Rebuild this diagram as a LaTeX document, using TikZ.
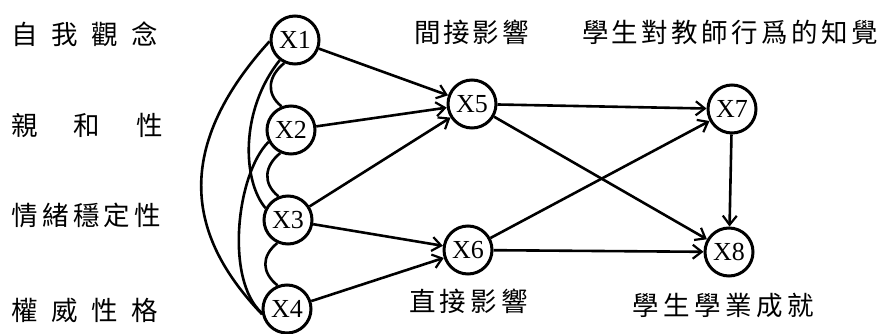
\documentclass[tikz,border=0pt]{standalone}
\usepackage{fontspec}
\setmainfont{Liberation Serif}
\newfontfamily\cjk{Noto Sans CJK TC}
\usetikzlibrary{arrows.meta}
\newcommand\spr[2]{\makebox[#1][s]{#2}}
\begin{document}
\begin{tikzpicture}[x=1pt,y=-1pt,
  var/.style={circle,draw,line width=3pt,minimum size=48pt,inner sep=0pt,font=\fontsize{26}{26}\selectfont},
  lab/.style={font=\cjk\fontsize{26.5}{26.5}\selectfont,inner sep=0pt},
  arr/.style={line width=2.6pt,-{Straight Barb[length=9pt,width=14pt,line width=2.2pt]}},
  cor/.style={line width=2.6pt}]
\fill[white] (0,0) rectangle (890,334);
\useasboundingbox (0,0) rectangle (890,334);
% variables
\node[var] (X1) at (295,40) {X1};
\node[var] (X2) at (291,130) {X2};
\node[var] (X3) at (288,220) {X3};
\node[var] (X4) at (287,309) {X4};
\node[var] (X5) at (472,104) {X5};
\node[var] (X6) at (468,250) {X6};
\node[var] (X7) at (732,109) {X7};
\node[var] (X8) at (729,252) {X8};
% labels
\node[lab] (L1) at (84.5,34) {\spr{147pt}{自\hfill 我\hfill 觀\hfill 念}};
\node[lab] (L2) at (87,125) {\spr{152pt}{親\hfill 和\hfill 性}};
\node[lab] (L3) at (86.5,215) {\spr{149pt}{情\hfill 緒\hfill 穩\hfill 定\hfill 性}};
\node[lab] (L4) at (84.5,310) {\spr{147pt}{權\hfill 威\hfill 性\hfill 格}};
\node[lab] (L5) at (471.5,32) {\spr{115pt}{間\hfill 接\hfill 影\hfill 響}};
\node[lab] (L6) at (730,32) {\spr{296pt}{學\hfill 生\hfill 對\hfill 教\hfill 師\hfill 行\hfill 爲\hfill 的\hfill 知\hfill 覺}};
\node[lab] (L7) at (468.5,301) {\spr{119pt}{直\hfill 接\hfill 影\hfill 響}};
\node[lab] (L8) at (723,305) {\spr{182pt}{學\hfill 生\hfill 學\hfill 業\hfill 成\hfill 就}};
% correlations
\draw[cor] (X1.245) .. controls +(-16,13) and +(-16,-13) .. (X2.112);
\draw[cor] (X2.245) .. controls +(-16,13) and +(-16,-13) .. (X3.112);
\draw[cor] (X3.245) .. controls +(-16,13) and +(-16,-13) .. (X4.112);
\draw[cor] (X1.233) .. controls +(-40,50) and +(-23,-27) .. (X3.152);
\draw[cor] (X2.208) .. controls +(-32,32) and +(-37,-33) .. (X4.189);
\draw[cor] (X1.183) .. controls +(-108,119) and +(-63,-66) .. (X4.192);
% paths
\draw[arr] (X1) -- (X5);
\draw[arr] (X2) -- (X5);
\draw[arr] (X3) -- (X5);
\draw[arr] (X3) -- (X6);
\draw[arr] (X4) -- (X6);
\draw[arr] (X5) -- (X7);
\draw[arr] (X5) -- (X8);
\draw[arr] (X6) -- (X7);
\draw[arr] (X6) -- (X8);
\draw[arr] (X7) -- (X8);
\end{tikzpicture}
\end{document}
